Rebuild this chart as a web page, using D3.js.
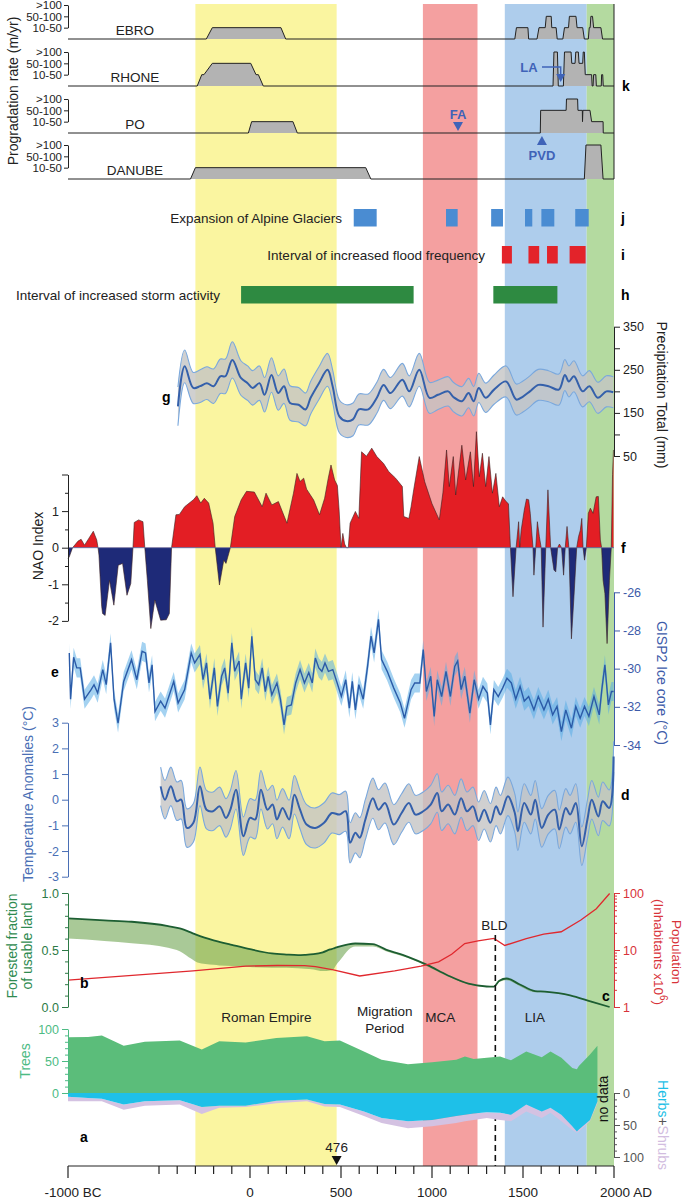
<!DOCTYPE html>
<html><head><meta charset="utf-8">
<script src="https://cdn.jsdelivr.net/npm/d3@7"></script>
<style>
body{margin:0;background:#fff}
svg{display:block}
text{font-family:"Liberation Sans",Arial,Helvetica,sans-serif}
</style></head>
<body><svg id="c" width="685" height="1198"></svg>
<script>
// ---------------- DATA ----------------
const periodStart=[-300,950,1400,1850];
const periodEnd=[476,1250,1850,2000];
const periodColor=["#faf5a0","#f4a0a0","#aecdec","#b4daa0"];
const periodNames=["Roman Empire","Migration|Period","MCA","LIA"];
const periodLabelYear=[90,740,1045,1565];

const riverNames=["EBRO","RHONE","PO","DANUBE"];
const rateLabels=["10-50","50-100",">100"];
const ebro=[[-1000,0],[-240,0],[-207,1],[170,1],[196,0],[1455,0],[1464,1],[1527,1],[1531,0],[1577,0],[1588,1],[1622,1],[1628,2],[1655,2],[1658,1],[1682,1],[1688,0],[1719,0],[1728,1],[1750,1],[1755,2],[1791,2],[1797,1],[1828,1],[1837,0],[1859,0],[1864,1],[1869,1],[1873,2],[1882,2],[1888,1],[1928,1],[1937,0],[2000,0]];
const rhone=[[-1000,0],[-290,0],[-265,1],[-253,1],[-207,2],[4,2],[33,1],[46,1],[73,0],[1665,0],[1670,3],[1689,3],[1694,0],[1722,0],[1728,3],[1764,3],[1768,2],[1786,2],[1790,3],[1804,3],[1808,2],[1828,2],[1831,3],[1837,3],[1842,1],[1877,1],[1880,0],[1885,0],[1888,1],[1900,1],[1903,0],[1930,0],[1932,1],[1938,1],[1941,0],[2000,0]];
const po=[[-1000,0],[-9,0],[9,1],[236,1],[260,0],[1595,0],[1597,2],[1737,2],[1739,3],[1800,3],[1802,2],[1826,2],[1827,1],[1829,2],[1868,2],[1877,1],[1940,1],[1941,0],[2000,0]];
const danube=[[-1000,0],[-327,0],[-300,1],[636,1],[664,0],[1837,0],[1846,3],[1928,3],[1940,0],[2000,0]];

const glacierIntervals=[[570,696],[1077,1141],[1325,1390],[1511,1551],[1601,1672],[1787,1861]];
const floodIntervals=[[1384,1439],[1530,1589],[1632,1691],[1756,1844]];
const stormIntervals=[[-49,899],[1337,1689]];

const precipYears=[-396,-359,-312,-274,-237,-200,-163,-135,-97,-50,-13,15,52,80,118,155,187,220,267,305,333,379,426,454,491,529,566,598,650,697,734,772,837,875,930,986,1033,1089,1117,1164,1201,1229,1257,1295,1341,1407,1463,1500,1538,1584,1640,1697,1730,1752,1780,1827,1865,1911,1958,1996];
const precipMean=[165,258,208,212,219,212,235,235,273,231,219,208,219,192,238,196,212,173,169,158,185,219,250,212,142,131,135,158,158,185,215,196,227,200,250,185,192,200,187,177,196,177,208,185,204,223,181,188,200,215,212,204,238,223,235,200,212,185,200,198];
const precipSpread=[45,38,36,38,38,40,40,40,42,40,40,40,40,40,40,40,40,40,40,38,38,38,38,38,38,38,38,36,36,36,36,36,38,36,38,36,34,34,34,34,34,34,34,34,34,36,36,36,36,36,36,36,36,36,36,36,36,36,36,36];

const nao=[[-1000,-0.3],[-993,-0.25],[-975,0],[-945,0.18],[-928,0.23],[-909,0.07],[-885,0.26],[-861,0.45],[-842,0.21],[-835,0],[-830,-0.2],[-815,-1.6],[-810,-1.8],[-796,-1.85],[-772,-0.89],[-748,-1.57],[-724,-0.48],[-700,-0.43],[-676,-1.3],[-655,-0.98],[-643,0],[-636,0.69],[-612,0.76],[-588,0.71],[-578,0],[-564,-0.89],[-545,-2.21],[-523,-1.43],[-491,-1.98],[-460,-1.97],[-443,-1.8],[-431,0],[-407,0.9],[-388,0.91],[-359,1.12],[-311,1.31],[-292,1.42],[-271,1.22],[-251,1.35],[-227,1.22],[-203,0.67],[-191,0],[-168,-1.02],[-144,-0.34],[-132,-0.43],[-108,0],[-84,0.85],[-48,1.31],[-19,1.54],[24,1.52],[67,1.12],[88,1.49],[120,1.17],[156,1.26],[203,0.67],[239,1.49],[258,2.03],[275,1.81],[295,1.9],[311,1.6],[350,1.3],[382,0.9],[410,1.35],[430,1.9],[445,2.26],[465,1.85],[480,1.7],[490,1.0],[500,0],[510,0.39],[520,0.1],[530,0],[540,0],[550,0.67],[579,0.99],[598,0.8],[613,2.62],[640,2.5],[669,2.72],[697,2.49],[734,2.3],[762,2.08],[800,1.9],[837,1.67],[845,0.85],[873,0.8],[885,1.12],[900,1.6],[930,2.49],[960,1.8],[1000,1.2],[1040,0.76],[1060,1.5],[1080,2.67],[1095,1.67],[1117,2.49],[1130,1.44],[1164,2.8],[1185,1.85],[1211,2.62],[1228,1.67],[1244,3.17],[1260,1.94],[1277,2.58],[1295,1.67],[1313,2.49],[1332,1.49],[1351,2.03],[1370,1.12],[1388,1.39],[1407,1.26],[1420,1.2],[1431,0],[1445,-1.34],[1462,0],[1476,0.71],[1482,0],[1490,0.48],[1507,1.03],[1519,1.33],[1531,1.31],[1540,0.94],[1555,0],[1560,-0.75],[1570,0],[1579,0.71],[1590,0.3],[1600,0],[1610,-2.17],[1625,0],[1637,1.58],[1652,0],[1670,-0.61],[1680,-0.66],[1690,0],[1700,0.1],[1712,0],[1723,-0.75],[1732,0],[1742,0.58],[1752,0],[1766,-2.49],[1780,-1.34],[1795,0],[1805,0.3],[1815,0.48],[1823,0.8],[1830,0],[1838,-0.34],[1848,0],[1859,0.94],[1870,1.08],[1885,0.94],[1902,1.39],[1914,1.4],[1925,0.21],[1932,0],[1940,-0.89],[1950,-1.25],[1962,-2.62],[1975,-0.89],[1985,0],[1992,2.0],[1997,2.67]];

const gisp=[[-993,-29.18],[-986,-31.6],[-969,-29.4],[-952,-29.96],[-933,-29.96],[-909,-31.6],[-873,-31.1],[-857,-30.84],[-837,-31.28],[-809,-30.05],[-790,-30.84],[-766,-28.65],[-747,-31.6],[-725,-32.86],[-694,-30.67],[-651,-29.53],[-622,-30.58],[-593,-29.09],[-574,-29.18],[-555,-30.75],[-538,-29.8],[-522,-32.25],[-491,-31.7],[-467,-32.07],[-419,-30.67],[-395,-31.8],[-359,-31.1],[-323,-29.18],[-304,-29.7],[-275,-29.26],[-258,-30.58],[-239,-29.7],[-220,-31.6],[-196,-29.96],[-179,-31.98],[-156,-30.4],[-139,-29.96],[-120,-31.28],[-100,-28.65],[-84,-30.14],[-60,-29.6],[-48,-31.6],[-24,-29.7],[-7,-31.02],[10,-28.3],[29,-30.58],[48,-30.84],[67,-29.96],[84,-31.2],[100,-30.4],[120,-31.37],[148,-30.75],[167,-31.6],[187,-32.95],[203,-31.98],[227,-31.9],[251,-30.75],[275,-30.05],[299,-30.75],[323,-30.2],[342,-30.75],[359,-29.44],[378,-29.96],[395,-30.14],[412,-29.7],[431,-30.14],[455,-30.05],[479,-30.75],[502,-31.46],[526,-30.58],[546,-32.07],[562,-30.67],[579,-32.16],[598,-30.84],[622,-31.6],[646,-29.88],[665,-28.3],[682,-29.18],[706,-27.42],[723,-29.53],[754,-30.14],[790,-31.02],[826,-31.8],[849,-32.6],[885,-31.1],[905,-30.75],[933,-30.75],[952,-29.0],[969,-31.2],[993,-30.4],[1012,-32.5],[1029,-30.58],[1053,-31.46],[1077,-30.14],[1101,-31.46],[1125,-29.88],[1141,-29.6],[1160,-31.1],[1180,-30.4],[1208,-32.33],[1232,-30.58],[1256,-31.6],[1280,-30.93],[1304,-31.28],[1321,-32.95],[1340,-31.1],[1364,-31.46],[1388,-31.02],[1412,-30.5],[1436,-30.75],[1460,-31.6],[1484,-30.93],[1507,-31.7],[1531,-31.46],[1560,-32.16],[1584,-31.46],[1615,-32.16],[1639,-31.6],[1663,-32.42],[1687,-31.98],[1711,-33.3],[1735,-32.16],[1766,-33.12],[1790,-31.98],[1814,-32.6],[1838,-31.98],[1862,-32.5],[1890,-31.46],[1919,-32.42],[1933,-31.1],[1950,-29.8],[1969,-31.9],[1986,-31.2],[1998,-31.2]];
const gispBand=0.5;

const tempYears=[-491,-467,-435,-402,-378,-347,-311,-275,-239,-203,-167,-132,-108,-77,-36,0,29,60,96,124,148,179,215,244,275,311,359,407,450,491,526,550,579,603,634,675,706,742,790,833,873,909,952,993,1029,1053,1089,1125,1160,1192,1225,1256,1287,1321,1352,1376,1417,1455,1472,1507,1543,1567,1603,1639,1675,1699,1735,1759,1790,1823,1854,1878,1914,1938,1974,1998];
const tempMean=[0.52,0,0.52,-0.06,0,-1.1,-0.9,0.52,-0.39,-0.45,-0.26,-0.71,-0.39,0.39,-1.42,-0.71,-0.77,0.39,-0.39,-0.19,-0.77,-0.32,-0.77,0.19,-0.39,-0.97,-1.1,-0.9,-0.52,-0.58,-0.45,-1.68,-1.29,-1.48,-0.77,0.06,-0.39,-0.13,-0.97,-0.52,-0.13,-0.58,-0.45,-0.19,0.26,-0.45,-0.19,-0.58,0.06,-0.45,-0.26,-0.84,-0.39,-0.9,-0.26,-0.58,0.13,-0.52,-1.23,-0.13,-0.58,0,-1.1,-0.58,-0.39,-1.16,-0.32,-0.58,-0.13,-1.81,-0.77,0,-0.65,-0.06,-0.32,1.68];
const tempSpread=[0.75,0.75,0.75,0.75,0.75,0.75,0.75,0.75,0.75,0.75,0.75,0.75,0.75,0.75,0.75,0.75,0.75,0.75,0.75,0.75,0.75,0.75,0.75,0.75,0.75,0.78,0.78,0.78,0.78,0.78,0.78,0.78,0.78,0.78,0.78,0.78,0.78,0.78,0.78,0.75,0.75,0.75,0.75,0.75,0.75,0.75,0.75,0.75,0.75,0.75,0.75,0.75,0.75,0.75,0.75,0.75,0.75,0.75,0.75,0.75,0.75,0.75,0.75,0.75,0.75,0.75,0.75,0.75,0.75,0.75,0.75,0.75,0.75,0.75,0.7,0.6];

const forestYears=[-1000,-800,-650,-450,-386,-320,-289,-200,-169,-100,0,120,200,264,300,349,400,440,458,470,500,540,578,675,747,868,976,1085,1200,1300,1340,1370,1410,1480,1566,1620,1759,1880,1976];
const forestUpper=[0.777,0.76,0.748,0.71,0.689,0.65,0.63,0.585,0.572,0.545,0.507,0.47,0.46,0.455,0.457,0.463,0.48,0.505,0.513,0.52,0.535,0.55,0.557,0.551,0.504,0.44,0.367,0.279,0.205,0.18,0.178,0.23,0.25,0.2,0.14,0.135,0.103,0.044,0.0];
const forestLower=[0.6,0.58,0.56,0.52,0.49,0.42,0.39,0.37,0.365,0.36,0.35,0.345,0.345,0.34,0.335,0.33,0.315,0.32,0.33,0.36,0.42,0.5,0.53,0.53,0.49,0.43,0.355,0.27,0.2,0.175,0.175,0.22,0.235,0.185,0.13,0.13,0.1,0.04,0.0];

const popYears=[-1000,-313,-24,150,300,360,458,603,795,940,1036,1108,1180,1253,1340,1400,1518,1614,1710,1818,1903,1976];
const popValues=[2.95,4.3,5.2,5.35,5.3,5.1,4.5,3.5,4.3,5.2,6.2,8.4,13,14.5,16,12,15.9,19,20.9,33.5,53,98];

const pollenYears=[-1000,-890,-814,-694,-578,-386,-265,-169,-24,145,313,410,494,626,723,868,1000,1133,1181,1229,1301,1374,1434,1518,1603,1651,1711,1771,1796,1807,1868,1909];
const trees=[87,87.5,90,74,80,82,68,81,79,86,88.5,81,82,65,52,45,48,52,57,53,55,57,51,65,56,65,55,39,37,42,60,74];
const herbs=[6,8,9,18,13,11.5,22,20,20,12,10,17,18,29,39,44,42,36,34,32,30,31,34,18,29,23,34,52,60,57,42,13];
const shrubs=[7,5,4,8,7,6.5,11,3,2,4,3,4,4,7,8,11,10,11,10,10,9,11,10,11,10,8,10,6,2,3,2,3];

const xMajor=[-1000,0,500,1000,1500,2000];
const xMajorLabels=["-1000 BC","0","500","1000","1500","2000 AD"];
const xMinor=[-500,-400,-300,-200,-100,100,200,300,400,600,700,800,900,1100,1200,1300,1400,1600,1700,1800,1900];

// ---------------- DRAW ----------------
const svg=d3.select("#c");
const FONT="Liberation Sans, Arial, sans-serif";
const x=d3.scaleLinear().domain([-1000,2000]).range([68,614]);
const AXY=1166;

function txt(g,s,px,py,opt={}){
  const t=g.append("text").attr("x",px).attr("y",py).text(s)
    .attr("font-size",opt.size||13.5).attr("fill",opt.color||"#222")
    .attr("text-anchor",opt.anchor||"start").attr("dominant-baseline","central");
  if(opt.bold) t.attr("font-weight","bold");
  if(opt.rot!==undefined) t.attr("transform",`rotate(${opt.rot},${px},${py})`);
  return t;
}
function styleAxis(g,color,fs,minorFn,minorLen,side){
  g.attr("font-family",null).attr("font-size",null);
  g.select(".domain").attr("stroke",color).attr("stroke-width",1);
  g.selectAll(".tick line").attr("stroke",color);
  g.selectAll(".tick text").attr("fill",color).attr("font-size",fs).attr("font-family",FONT);
  if(minorFn){
    g.selectAll(".tick").filter(minorFn).select("line").attr("x2",side*minorLen);
  }
}

// period bands
svg.append("g").selectAll("rect").data(periodStart).join("rect")
  .attr("x",d=>x(d)).attr("width",(d,i)=>x(periodEnd[i])-x(d))
  .attr("y",4).attr("height",AXY-4).attr("fill",(d,i)=>periodColor[i]);

// ---- k: progradation
const riverBase=[39,86,133,179];
const rivers=[ebro,rhone,po,danube];
const gk=svg.append("g");
rivers.forEach((s,i)=>{
  const yR=d3.scaleLinear().domain([0,3]).range([riverBase[i],riverBase[i]-34]);
  gk.append("path").datum(s).attr("fill","#b3b3b3")
    .attr("d",d3.area().x(d=>x(d[0])).y0(yR(0)).y1(d=>yR(d[1])));
  gk.append("path").datum(s).attr("fill","none").attr("stroke","#222").attr("stroke-width",1)
    .attr("d",d3.line().x(d=>x(d[0])).y(d=>yR(d[1])));
  const ax=d3.axisLeft(d3.scaleLinear().domain([1,3]).range([yR(1),yR(3)]))
    .tickValues([1,2,3]).tickFormat(d=>rateLabels[d-1]).tickSize(4).tickSizeOuter(0).tickPadding(2);
  const ga=gk.append("g").attr("transform","translate(68,0)").call(ax);
  styleAxis(ga,"#222",11.5);
  txt(gk,riverNames[i],135,riverBase[i]-9,{anchor:"middle",size:13.5});
});
gk.append("line").attr("x1",614).attr("x2",614).attr("y1",4).attr("y2",179).attr("stroke","#222");
txt(gk,"Progradation rate (m/yr)",13,91,{anchor:"middle",rot:-90,size:14});
txt(gk,"k",622,86,{bold:true,size:14,color:"#000"});
const annC="#3f63b8";
txt(gk,"LA",529,67,{anchor:"middle",bold:true,color:annC,size:13});
gk.append("path").attr("d",`M542,67H${x(1707)}V76`).attr("fill","none").attr("stroke",annC).attr("stroke-width",1.5);
gk.append("path").attr("d",`M${x(1707)-4.5},74L${x(1707)+4.5},74L${x(1707)},82Z`).attr("fill",annC);
txt(gk,"FA",x(1143),114,{anchor:"middle",bold:true,color:annC,size:13});
gk.append("path").attr("d",`M${x(1143)-5},122L${x(1143)+5},122L${x(1143)},131Z`).attr("fill",annC);
txt(gk,"PVD",x(1604),155,{anchor:"middle",bold:true,color:annC,size:13});
gk.append("path").attr("d",`M${x(1604)-5},145L${x(1604)+5},145L${x(1604)},136Z`).attr("fill",annC);

// ---- j, i, h bars
const gb=svg.append("g");
const barRows=[[glacierIntervals,209,"#4a8cd2","Expansion of Alpine Glaciers",342,"j"],
               [floodIntervals,246,"#e3232a","Interval of increased flood frequency",485,"i"],
               [stormIntervals,286,"#2e8a41","Interval of increased storm activity",220,"h"]];
barRows.forEach(r=>{
  gb.append("g").selectAll("rect").data(r[0]).join("rect")
    .attr("x",d=>x(d[0])).attr("width",d=>x(d[1])-x(d[0])).attr("y",r[1]).attr("height",17.5).attr("fill",r[2]);
  txt(gb,r[3],r[4],r[1]+9,{anchor:"end",size:13.5});
  txt(gb,r[5],621,r[1]+9,{bold:true,size:14,color:"#000"});
});

// ---- g precipitation
const yP=d3.scaleLinear().domain([350,50]).range([326.7,456]);
const gp=svg.append("g");
const pIdx=d3.range(precipYears.length);
const cr=d3.curveCatmullRom.alpha(0.5);
gp.append("path").datum(pIdx).attr("fill","#c4c4c4").attr("opacity",0.8)
  .attr("d",d3.area().curve(cr).x(i=>x(precipYears[i])).y0(i=>yP(precipMean[i]-precipSpread[i])).y1(i=>yP(precipMean[i]+precipSpread[i])));
[1,-1].forEach(sg=>{
  gp.append("path").datum(pIdx).attr("fill","none").attr("stroke","#7aa8dd").attr("stroke-width",1.1)
    .attr("d",d3.line().curve(cr).x(i=>x(precipYears[i])).y(i=>yP(precipMean[i]+sg*precipSpread[i])));
});
gp.append("path").datum(pIdx).attr("fill","none").attr("stroke","#3460ab").attr("stroke-width",2)
  .attr("d",d3.line().curve(cr).x(i=>x(precipYears[i])).y(i=>yP(precipMean[i])));
const axP=d3.axisRight(yP).tickValues([350,300,250,200,150,100,50]).tickFormat(d=>d%100===50?String(d):"").tickSize(6).tickSizeOuter(0);
const gaP=gp.append("g").attr("transform","translate(614,0)").call(axP);
styleAxis(gaP,"#222",12.5);
txt(gp,"Precipitation Total (mm)",662,395,{anchor:"middle",rot:90,size:14});
txt(gp,"g",162,397,{bold:true,size:14,color:"#000"});

// ---- f NAO
const yN=d3.scaleLinear().domain([-2,2]).range([620.9,474.5]);
const defs=svg.append("defs");
defs.append("clipPath").attr("id","pos").append("rect").attr("x",0).attr("y",0).attr("width",685).attr("height",yN(0));
defs.append("clipPath").attr("id","neg").append("rect").attr("x",0).attr("y",yN(0)).attr("width",685).attr("height",1198-yN(0));
const gn=svg.append("g");
const naoArea=d3.area().x(d=>x(d[0])).y0(yN(0)).y1(d=>yN(d[1]));
gn.append("path").datum(nao).attr("d",naoArea).attr("fill","#e31e24").attr("clip-path","url(#pos)");
gn.append("path").datum(nao).attr("d",naoArea).attr("fill","#1e2a78").attr("clip-path","url(#neg)");
gn.append("path").datum(nao).attr("fill","none").attr("stroke","#3a2020").attr("stroke-width",0.6)
  .attr("d",d3.line().x(d=>x(d[0])).y(d=>yN(d[1])));
gn.append("line").attr("x1",x(-1000)).attr("x2",x(2000)).attr("y1",yN(0)).attr("y2",yN(0)).attr("stroke","#5a6aa0").attr("stroke-width",0.8);
const axN=d3.axisLeft(yN).tickValues([-2,-1.5,-1,-0.5,0,0.5,1,1.5,2]).tickFormat(d=>(Number.isInteger(d)&&d<2)?String(d):"").tickSize(6).tickSizeOuter(0);
const gaN=gn.append("g").attr("transform","translate(68,0)").call(axN);
styleAxis(gaN,"#222",12.5,d=>!Number.isInteger(d),-3,1);
txt(gn,"NAO Index",38,546,{anchor:"middle",rot:-90,size:14});
txt(gn,"f",621,548,{bold:true,size:14,color:"#000"});

// ---- e GISP2
const yG=d3.scaleLinear().domain([-26,-34]).range([592.3,745]);
const ge=svg.append("g");
ge.append("path").datum(gisp).attr("fill","#5aade6").attr("opacity",0.55)
  .attr("d",d3.area().x(d=>x(d[0])).y0(d=>yG(d[1]-gispBand)).y1(d=>yG(d[1]+gispBand)));
ge.append("path").datum(gisp).attr("fill","none").attr("stroke","#2b5ba8").attr("stroke-width",1.4)
  .attr("d",d3.line().x(d=>x(d[0])).y(d=>yG(d[1])));
const axG=d3.axisRight(yG).tickValues([-26,-28,-30,-32,-34]).tickFormat(d=>String(d)).tickSize(6).tickSizeOuter(0);
const gaG=ge.append("g").attr("transform","translate(614,0)").call(axG);
styleAxis(gaG,"#3d5ba9",12.5);
txt(ge,"GISP2 Ice core (°C)",662,683,{anchor:"middle",rot:90,size:14,color:"#3d5ba9"});
txt(ge,"e",51,672,{bold:true,size:14,color:"#000"});

// ---- d temperature
const yT=d3.scaleLinear().domain([-3,3]).range([876.7,722.7]);
const gd=svg.append("g");
const tIdx=d3.range(tempYears.length);
gd.append("path").datum(tIdx).attr("fill","#c4c4c4").attr("opacity",0.8)
  .attr("d",d3.area().curve(cr).x(i=>x(tempYears[i])).y0(i=>yT(tempMean[i]-tempSpread[i])).y1(i=>yT(tempMean[i]+tempSpread[i])));
[1,-1].forEach(sg=>{
  gd.append("path").datum(tIdx).attr("fill","none").attr("stroke","#7aa8dd").attr("stroke-width",1.1)
    .attr("d",d3.line().curve(cr).x(i=>x(tempYears[i])).y(i=>yT(tempMean[i]+sg*tempSpread[i])));
});
gd.append("path").datum(tIdx).attr("fill","none").attr("stroke","#3460ab").attr("stroke-width",2)
  .attr("d",d3.line().curve(cr).x(i=>x(tempYears[i])).y(i=>yT(tempMean[i])));
const axT=d3.axisLeft(yT).tickValues([-3,-2,-1,0,1,2,3]).tickFormat(d=>String(d)).tickSize(6).tickSizeOuter(0);
const gaT=gd.append("g").attr("transform","translate(68,0)").call(axT);
styleAxis(gaT,"#4a6fb5",12.5);
txt(gd,"Temperature Anomalies (°C)",28,794,{anchor:"middle",rot:-90,size:14,color:"#4a6fb5"});
txt(gd,"d",621,795,{bold:true,size:14,color:"#000"});

// ---- b/c forest & population
const yF=d3.scaleLinear().domain([0,1]).range([1007,893]);
const yPop=d3.scaleLog().domain([1,100]).range([1007,893]);
const gf=svg.append("g");
const fIdx=d3.range(forestYears.length);
gf.append("path").datum(fIdx).attr("fill","#6fa552").attr("opacity",0.6)
  .attr("d",d3.area().curve(d3.curveMonotoneX).x(i=>x(forestYears[i])).y0(i=>yF(forestLower[i])).y1(i=>yF(forestUpper[i])));
gf.append("path").datum(fIdx).attr("fill","none").attr("stroke","#1d5e32").attr("stroke-width",1.8)
  .attr("d",d3.line().curve(d3.curveMonotoneX).x(i=>x(forestYears[i])).y(i=>yF(forestUpper[i])));
gf.append("path").datum(d3.range(popYears.length)).attr("fill","none").attr("stroke","#e0282e").attr("stroke-width",1.3)
  .attr("d",d3.line().x(i=>x(popYears[i])).y(i=>yPop(popValues[i])));
const axF=d3.axisLeft(yF).tickValues(d3.range(0,11).map(v=>v/10)).tickFormat(d=>([0,5,10].includes(Math.round(d*10))?d.toFixed(1):"")).tickSize(6).tickSizeOuter(0);
const gaF=gf.append("g").attr("transform","translate(68,0)").call(axF);
styleAxis(gaF,"#2d7a46",12.5,d=>![0,5,10].includes(Math.round(d*10)),-3,1);
const popTicks=[1,2,3,4,5,6,7,8,9,10,20,30,40,50,60,70,80,90,100];
const axPop=d3.axisRight(yPop).tickValues(popTicks).tickFormat(d=>([1,10,100].includes(d)?String(d):"")).tickSize(6).tickSizeOuter(0);
const gaPop=gf.append("g").attr("transform","translate(614,0)").call(axPop);
styleAxis(gaPop,"#d8333a",12.5,d=>![1,10,100].includes(d),3,1);
const fc="#2f8a50";
txt(gf,"Forested fraction",12,946,{anchor:"middle",rot:-90,size:14,color:fc});
txt(gf,"of usable land",27,946,{anchor:"middle",rot:-90,size:14,color:fc});
txt(gf,"Population",676,952,{anchor:"middle",rot:90,size:13.5,color:"#d8333a"});
const ih=gf.append("text").attr("transform","translate(659,952) rotate(90)").attr("text-anchor","middle").attr("dominant-baseline","central")
  .attr("font-size",13.5).attr("fill","#d8333a");
ih.append("tspan").text("(Inhabitants x10");
ih.append("tspan").text("6").attr("font-size",10).attr("dy",-5);
ih.append("tspan").text(")").attr("dy",5);
txt(gf,"b",80,983,{bold:true,size:14,color:"#000"});
txt(gf,"c",602,996,{bold:true,size:14,color:"#000"});

// period labels
periodNames.forEach((n,i)=>{
  const parts=n.split("|");
  if(parts.length===1) txt(svg,n,x(periodLabelYear[i]),1017,{anchor:"middle",size:13.5});
  else {txt(svg,parts[0],x(periodLabelYear[i]),1011,{anchor:"middle",size:13.5});
        txt(svg,parts[1],x(periodLabelYear[i]),1028,{anchor:"middle",size:13.5});}
});
// BLD
svg.append("line").attr("x1",x(1348)).attr("x2",x(1348)).attr("y1",935).attr("y2",AXY)
  .attr("stroke","#111").attr("stroke-width",1.6).attr("stroke-dasharray","6,4");
txt(svg,"BLD",x(1348)-1,925,{anchor:"middle",size:13.5});

// ---- a pollen
const yTr=d3.scaleLinear().domain([0,100]).range([1093,1029]);
const yH=d3.scaleLinear().domain([0,100]).range([1093,1157]);
const ga=svg.append("g");
const pI=d3.range(pollenYears.length);
ga.append("path").datum(pI).attr("fill","#d4c2e2")
  .attr("d",d3.area().x(i=>x(pollenYears[i])).y0(i=>yH(herbs[i])).y1(i=>yH(herbs[i]+shrubs[i])));
ga.append("path").datum(pI).attr("fill","#1ec0e8")
  .attr("d",d3.area().x(i=>x(pollenYears[i])).y0(yH(0)).y1(i=>yH(herbs[i])));
ga.append("path").datum(pI).attr("fill","#5bbd7a")
  .attr("d",d3.area().x(i=>x(pollenYears[i])).y0(yTr(0)).y1(i=>yTr(trees[i])));
const axTr=d3.axisLeft(yTr).tickValues(d3.range(0,101,10)).tickFormat(d=>(d%50===0?String(d):"")).tickSize(6).tickSizeOuter(0);
const gaTr=ga.append("g").attr("transform","translate(68,0)").call(axTr);
styleAxis(gaTr,"#4dbb84",12.5,d=>d%50!==0,-3,1);
const axH=d3.axisRight(yH).tickValues(d3.range(0,101,10)).tickFormat(d=>(d%50===0?String(d):"")).tickSize(6).tickSizeOuter(0);
const gaH=ga.append("g").attr("transform","translate(614,0)").call(axH);
styleAxis(gaH,"#555",12.5,d=>d%50!==0,3,1);
txt(ga,"Trees",25,1061,{anchor:"middle",rot:-90,size:14,color:"#4dbb84"});
const hs=ga.append("text").attr("transform","translate(663,1125) rotate(90)").attr("text-anchor","middle").attr("dominant-baseline","central").attr("font-size",14);
hs.append("tspan").text("Herbs").attr("fill","#1fbfe6");
hs.append("tspan").text("+").attr("fill","#555");
hs.append("tspan").text("Shrubs").attr("fill","#d2bde0");
txt(ga,"no data",603,1099,{anchor:"middle",rot:-90,size:14,color:"#111"});
txt(ga,"a",80,1137,{bold:true,size:14,color:"#000"});

// 476 marker
txt(svg,"476",x(476),1147,{anchor:"middle",size:13.5});
svg.append("path").attr("d",`M${x(476)-5},1156L${x(476)+5},1156L${x(476)},1165Z`).attr("fill","#111");

// ---- x axis
const gx=svg.append("g");
gx.append("line").attr("x1",x(-1000)).attr("x2",x(2000)).attr("y1",AXY).attr("y2",AXY).attr("stroke","#222").attr("stroke-width",1.2);
gx.selectAll("line.mj").data(xMajor).join("line").attr("x1",d=>x(d)).attr("x2",d=>x(d)).attr("y1",AXY).attr("y2",AXY+12).attr("stroke","#222").attr("stroke-width",1.2);
gx.selectAll("line.mn").data(xMinor).join("line").attr("x1",d=>x(d)).attr("x2",d=>x(d)).attr("y1",AXY).attr("y2",AXY+8).attr("stroke","#222").attr("stroke-width",1.2);
xMajor.forEach((d,i)=>{
  const off=i===0?5:(i===xMajor.length-1?12:0);
  txt(gx,xMajorLabels[i],x(d)+off,1192,{anchor:"middle",size:13.5});
});
</script></body></html>
